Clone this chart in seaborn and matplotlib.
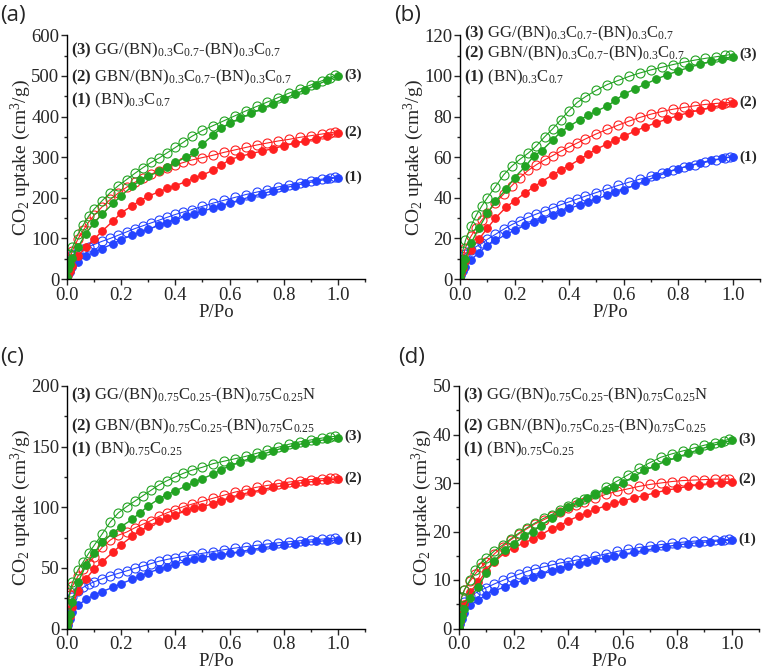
import matplotlib
matplotlib.use("Agg")
import matplotlib.pyplot as plt
import matplotlib.font_manager as fm
from matplotlib.ticker import MultipleLocator
import seaborn as sns

# relative pressure grids (adsorption / desorption branches)
P_ads = [0.0, 0.005, 0.01, 0.02, 0.04, 0.07, 0.10, 0.13, 0.17, 0.20, 0.24, 0.27, 0.30, 0.34, 0.37, 0.40,
         0.44, 0.47, 0.50, 0.54, 0.57, 0.60, 0.64, 0.68, 0.72, 0.76, 0.80, 0.84, 0.88, 0.92, 0.96, 1.0]
P_des = [0.003, 0.01, 0.02, 0.04, 0.06, 0.08, 0.10, 0.13, 0.16, 0.19, 0.22, 0.25, 0.28, 0.31, 0.34, 0.37,
         0.40, 0.43, 0.46, 0.50, 0.54, 0.58, 0.62, 0.66, 0.70, 0.74, 0.78, 0.82, 0.86, 0.90, 0.94, 0.97, 0.99]

# panel (a)
a1_ads = [2, 10, 18, 30, 43, 56, 66, 75, 87, 97, 108, 116, 123, 132, 139, 146,
          155, 161, 167, 175, 181, 187, 195, 203, 210, 217, 224, 230, 236, 241, 246, 250]
a1_des = [28, 45, 58, 67, 73, 79, 85, 93, 100, 108, 116, 124, 131, 138, 145, 152,
          159, 165, 171, 179, 187, 194, 201, 208, 214, 220, 227, 232, 237, 242, 246, 249, 251]
a2_ads = [2, 10, 20, 33, 57, 78, 98, 118, 143, 163, 180, 193, 204, 215, 223, 230,
          240, 248, 256, 268, 280, 294, 302, 309, 315, 321, 328, 334, 340, 346, 353, 360]
a2_des = [25, 50, 70, 98, 120, 140, 157, 178, 196, 212, 226, 238, 249, 258, 267, 274,
          281, 287, 293, 299, 305, 312, 318, 324, 330, 335, 340, 344, 349, 353, 357, 360, 362]
a3_ads = [5, 25, 38, 52, 78, 112, 138, 160, 186, 205, 228, 243, 253, 265, 275, 287,
          300, 312, 332, 355, 372, 384, 396, 408, 420, 432, 444, 455, 466, 478, 489, 500]
a3_des = [40, 62, 78, 110, 133, 155, 172, 193, 213, 230, 245, 260, 274, 287, 298, 311,
          324, 337, 351, 366, 378, 390, 402, 414, 425, 436, 447, 458, 468, 478, 488, 496, 502]

# panel (b)
b1_ads = [0.5, 2, 4, 6, 9.5, 13, 16.5, 19, 22, 24, 26.5, 28, 29.5, 31.5, 33, 34.8,
          36.5, 38, 39.5, 41.3, 42.7, 44, 46.2, 48.4, 50.5, 52.5, 54.3, 55.8, 57.2, 58.4, 59.4, 60.2]
b1_des = [6, 10, 12.5, 14.5, 16, 17.5, 19.5, 22, 24.5, 26.8, 28.7, 30.4, 32, 33.5, 35, 36.6,
          38, 39.4, 40.8, 42.6, 44.4, 46.1, 47.7, 49.2, 50.7, 52.2, 53.6, 55, 56.3, 57.5, 58.7, 59.6, 60.2]
b2_ads = [0.5, 3, 5.5, 9, 14.5, 19.7, 25, 30, 35.5, 38.5, 42.5, 45.3, 48, 51.3, 53.7, 55.8,
          59, 61.5, 64, 66.5, 68.5, 70.3, 72.8, 75, 77, 78.8, 80.5, 82, 83.3, 84.5, 85.6, 86.5]
b2_des = [5, 10, 15.5, 21, 25.2, 29, 32.5, 37.5, 41.8, 46, 50, 53.5, 56.3, 58.7, 60.8, 63,
          65, 67, 69, 71.5, 73.7, 75.8, 77.8, 79.6, 81.2, 82.5, 83.6, 84.5, 85.3, 86, 86.5, 86.8, 87]
b3_ads = [1, 4, 6.5, 10, 17.5, 25.3, 32.3, 38.3, 44.3, 50, 55.5, 60.5, 63.3, 68.5, 72.5, 75.2,
          78.5, 80.6, 82.7, 85.2, 88, 91, 93.5, 96, 98.5, 100.6, 102.5, 104.2, 105.8, 107.2, 108.5, 109.5]
b3_des = [6, 14, 19, 26, 31.5, 36, 40, 45.5, 51.3, 55.6, 59, 62, 65.5, 70, 74, 78.5,
          83, 87, 89.8, 93, 95.8, 97.8, 99.8, 101.5, 103, 104.3, 105.6, 106.8, 107.8, 108.7, 109.5, 110.1, 110.5]

# panel (c)
c1_ads = [0.5, 3, 8, 14, 19, 24, 27.5, 30.5, 34, 37, 40.5, 43, 46, 49, 51, 53,
          55.5, 57, 58.5, 60, 61, 62, 63.5, 65, 66.5, 67.8, 69, 70, 71, 71.8, 72.5, 73]
c1_des = [12, 20, 26, 31, 34, 36.5, 38.5, 41, 43.5, 45.5, 47.5, 49.5, 51.5, 53.5, 55.5, 57,
          58.3, 59.5, 60.5, 62, 63.5, 65, 66.3, 67.5, 68.6, 69.7, 70.7, 71.6, 72.4, 73.1, 73.7, 74.2, 74.5]
c2_ads = [1, 5, 10, 18, 31, 41, 49, 55, 63, 69, 76, 80.5, 84.5, 88.5, 91, 94,
          97, 99, 100.5, 103, 105.5, 108, 110.5, 112.5, 114.5, 116.5, 118, 119.5, 120.5, 121.5, 122.5, 123]
c2_des = [18, 28, 35, 43, 49, 54, 59, 67, 73, 77, 79.5, 83, 86, 89, 92.5, 95.5,
          98, 100.5, 102.5, 105, 107.5, 110, 112.5, 114.5, 116.5, 118, 119.5, 120.8, 122, 122.8, 123.5, 124, 124]
c3_ads = [1, 6, 12, 22, 38, 52, 62, 71, 79, 84, 90, 95.5, 101, 107, 110.5, 113.5,
          117.5, 120.5, 123.5, 127.5, 131, 134, 137.5, 140.5, 143.5, 146.5, 149, 151, 153, 154.5, 156, 157]
c3_des = [20, 30, 38, 48, 55, 62, 68.5, 78, 88, 95.5, 100.5, 105, 109.5, 114, 118.5, 122,
          125, 128, 130.5, 133, 136, 138, 140, 142, 144.5, 147, 149.5, 152, 154, 155.5, 157, 158, 158.5]

# panel (d)
d1_ads = [0.2, 1, 2, 3.2, 4.8, 5.8, 7, 7.8, 8.6, 9.3, 10, 10.6, 11.2, 11.8, 12.3, 12.8,
          13.4, 13.8, 14.2, 14.6, 14.9, 15.3, 15.7, 16.1, 16.5, 16.9, 17.2, 17.5, 17.7, 17.9, 18.1, 18.2]
d1_des = [2, 4, 5.5, 6.6, 7.3, 7.9, 8.4, 9.2, 9.9, 10.6, 11.2, 11.8, 12.3, 12.7, 13.1, 13.5,
          13.8, 14.1, 14.4, 14.9, 15.4, 15.9, 16.3, 16.7, 17, 17.3, 17.6, 17.8, 18, 18.1, 18.2, 18.3, 18.4]
d2_ads = [0.3, 1.5, 3, 5, 7.5, 9.5, 11.8, 13.8, 15.7, 16.6, 17.7, 18.4, 19.3, 20.6, 21.2, 22.2,
          23.2, 23.8, 24.6, 25.3, 25.8, 26.3, 26.9, 27.4, 28, 28.5, 28.9, 29.3, 29.6, 29.9, 30.1, 30.3]
d2_des = [4, 6.5, 8, 9.7, 11.3, 12.6, 13.7, 15.4, 16.9, 18.3, 19.5, 20.6, 21.6, 22.4, 23.2, 24,
          24.8, 25.5, 26.1, 26.9, 27.7, 28.3, 28.8, 29.3, 29.7, 30, 30.3, 30.5, 30.6, 30.7, 30.8, 30.8, 30.8]
d3_ads = [0.3, 1.5, 2.5, 4, 6.3, 8.5, 11.5, 14, 16.2, 17.5, 19, 20, 21.2, 22.8, 24, 25,
          26, 27, 27.8, 28.6, 29.2, 30, 31.3, 32.6, 33.6, 34.5, 35.3, 36.1, 36.9, 37.6, 38.2, 38.8]
d3_des = [4, 6.5, 8, 10, 12, 13.5, 14.5, 16, 17.2, 18.5, 19.7, 20.8, 21.8, 22.7, 23.5, 24.4,
          25.3, 26, 26.7, 27.7, 29.2, 30.4, 31.7, 33, 34.2, 35.3, 36, 36.6, 37.2, 37.8, 38.3, 38.7, 39]

labels_03 = [r"$\mathbf{(3)}$ GG/(BN)$_{0.3}$C$_{0.7}$-(BN)$_{0.3}$C$_{0.7}$",
             r"$\mathbf{(2)}$ GBN/(BN)$_{0.3}$C$_{0.7}$-(BN)$_{0.3}$C$_{0.7}$",
             r"$\mathbf{(1)}$ (BN)$_{0.3}$C$_{0.7}$"]
labels_075 = [r"$\mathbf{(3)}$ GG/(BN)$_{0.75}$C$_{0.25}$-(BN)$_{0.75}$C$_{0.25}$N",
              r"$\mathbf{(2)}$ GBN/(BN)$_{0.75}$C$_{0.25}$-(BN)$_{0.75}$C$_{0.25}$",
              r"$\mathbf{(1)}$ (BN)$_{0.75}$C$_{0.25}$"]

# make sure the Times-like serif is registered under its own name
serif = "DejaVu Serif"
for f in fm.findSystemFonts():
    if "LiberationSerif" in f.replace(" ", ""):
        fm.fontManager.addfont(f)
        if "LiberationSerif-Regular" in f.replace(" ", ""):
            serif = fm.FontProperties(fname=f).get_name()

sns.set_style("ticks")
plt.rcParams["font.family"] = [serif, "DejaVu Serif"]
plt.rcParams["mathtext.fontset"] = "custom"
plt.rcParams["mathtext.rm"] = serif
plt.rcParams["mathtext.it"] = serif + ":italic"
plt.rcParams["mathtext.bf"] = serif + ":bold"

blue, red, green = "#2443ff", "#ff2020", "#22a322"

W, H = 762, 669
fig = plt.figure(figsize=(W / 100, H / 100), dpi=100)

panels = [
    ("(a)", (67, 279, 298, 243.6), 600, 100, 50, labels_03, [0.94, 0.829, 0.735],
     [(a1_ads, a1_des, blue), (a2_ads, a2_des, red), (a3_ads, a3_des, green)], (0, 15)),
    ("(b)", (460, 279, 300, 243.6), 120, 20, 10, labels_03, [1.01, 0.928, 0.829],
     [(b1_ads, b1_des, blue), (b2_ads, b2_des, red), (b3_ads, b3_des, green)], (394, 15)),
    ("(c)", (67, 628.5, 298, 242.5), 200, 50, 25, labels_075, [0.963, 0.834, 0.738],
     [(c1_ads, c1_des, blue), (c2_ads, c2_des, red), (c3_ads, c3_des, green)], (0, 357)),
    ("(d)", (459, 628.5, 300, 242.5), 50, 10, 5, labels_075, [0.963, 0.834, 0.738],
     [(d1_ads, d1_des, blue), (d2_ads, d2_des, red), (d3_ads, d3_des, green)], (398, 357)),
]

for tag, (x0, y0, w, h), ymax, ymaj, ymin, legend, ly, series, tagpos in panels:
    ax = fig.add_axes([x0 / W, (H - y0) / H, w / W, h / H])
    for ads, des, col in series:
        sns.lineplot(x=P_ads, y=ads, ax=ax, color=col, linewidth=1.0, marker="o",
                     markersize=5.5, markerfacecolor=col, markeredgecolor=col)
        sns.lineplot(x=P_des, y=des, ax=ax, color=col, linewidth=0.8, marker="o",
                     markersize=6.5, markerfacecolor="none", markeredgecolor=col,
                     markeredgewidth=0.8)
    for (ads, des, col), num in zip(series, ["(1)", "(2)", "(3)"]):
        ax.text(1.025, des[-1], num, fontsize=11, fontweight="bold", va="center", ha="left")
    for txt, yy in zip(legend, ly):
        ax.text(0.012, yy, txt, transform=ax.transAxes, fontsize=12, va="center", ha="left")

    ax.set_xlim(0, 1.1)
    ax.set_ylim(0, ymax)
    ax.xaxis.set_major_locator(MultipleLocator(0.2))
    ax.xaxis.set_minor_locator(MultipleLocator(0.1))
    ax.yaxis.set_major_locator(MultipleLocator(ymaj))
    ax.yaxis.set_minor_locator(MultipleLocator(ymin))
    ax.xaxis.set_major_formatter(plt.FuncFormatter(lambda v, p: f"{v:.1f}"))
    ax.tick_params(which="major", direction="out", length=4, width=1, labelsize=13.5, pad=1.5)
    ax.tick_params(which="minor", direction="out", length=2.5, width=1)
    sns.despine(ax=ax)
    for s in ["left", "bottom"]:
        ax.spines[s].set_linewidth(1.0)
        ax.spines[s].set_color("black")
    ax.set_xlabel("P/Po", fontsize=13.5, labelpad=0)
    ax.set_ylabel(r"CO$_2$ uptake (cm$^3$/g)", fontsize=14, labelpad=-1)
    ax.set_facecolor("none")

    fig.text(tagpos[0] / W, (H - tagpos[1]) / H, tag, fontsize=16, family="Open Sans",
             va="center", ha="left")

fig.savefig("out.png", dpi=100, facecolor="white")
